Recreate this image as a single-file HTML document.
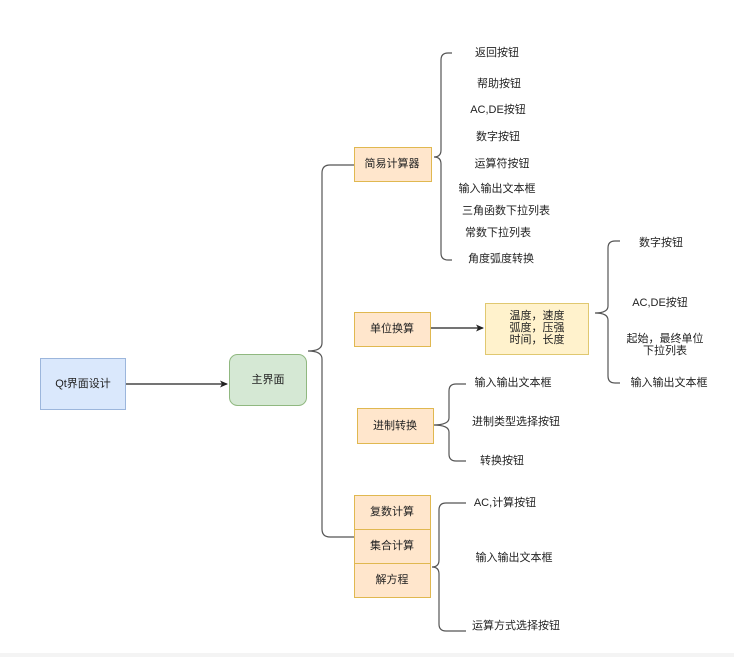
<!DOCTYPE html>
<html><head><meta charset="utf-8"><style>
body{margin:0;background:#fff;}
svg text{font-family:"Liberation Sans","Noto Sans CJK SC",sans-serif;font-size:11px;fill:#222;text-anchor:middle;dominant-baseline:central;}
</style></head><body>
<svg width="734" height="657" viewBox="0 0 734 657" xmlns="http://www.w3.org/2000/svg">
<defs><marker id="a" markerWidth="8" markerHeight="8" refX="7" refY="4" orient="auto" markerUnits="userSpaceOnUse"><path d="M0,0.5 L8,4 L0,7.5 L2,4 Z" fill="#222"/></marker></defs>
<g fill="none" stroke="#555" stroke-width="1.2">
<!-- main brace -->
<path d="M354,165 H330 Q322,165 322,173 V343 Q322,351 308,351 Q322,351 322,359 V529 Q322,537 330,537 H354"/>
<!-- simple calc brace -->
<path d="M452,53 H448 Q441,53 441,60 V150 Q441,157 434,157 Q441,157 441,164 V253 Q441,260 448,260 H452"/>
<!-- unit brace -->
<path d="M620,241 H615 Q608,241 608,248 V306 Q608,313 595,313 Q608,313 608,320 V376 Q608,383 615,383 H620"/>
<!-- base brace -->
<path d="M466,384 H456 Q449,384 449,391 V418 Q449,425 433,425 Q449,425 449,432 V454 Q449,461 456,461 H466"/>
<!-- bottom brace -->
<path d="M466,503 H446 Q439,503 439,510 V560 Q439,567 432,567 Q439,567 439,574 V624 Q439,631 446,631 H466"/>
</g>
<g stroke="#222" stroke-width="1.2">
<line x1="125" y1="384" x2="227" y2="384" marker-end="url(#a)"/>
<line x1="430" y1="328" x2="483" y2="328" marker-end="url(#a)"/>
</g>
<rect x="40.5" y="358.5" width="85" height="51" fill="#dae8fc" stroke="#9cb6dc"/>
<text x="83" y="384">Qt界面设计</text>
<rect x="229.5" y="354.5" width="77" height="51" rx="8" fill="#d5e8d4" stroke="#90b880"/>
<text x="268" y="380">主界面</text>
<g fill="#ffe6cc" stroke="#e0b850">
<rect x="354.5" y="147.5" width="77" height="34"/>
<rect x="354.5" y="312.5" width="76" height="34"/>
<rect x="357.5" y="408.5" width="76" height="35"/>
<rect x="354.5" y="495.5" width="76" height="34"/>
<rect x="354.5" y="529.5" width="76" height="34"/>
<rect x="354.5" y="563.5" width="76" height="34"/>
</g>
<rect x="485.5" y="303.5" width="103" height="51" fill="#fff2cc" stroke="#e0c870"/>
<text x="392" y="164">简易计算器</text>
<text x="392" y="329">单位换算</text>
<text x="395" y="426">进制转换</text>
<text x="392" y="512">复数计算</text>
<text x="392" y="546">集合计算</text>
<text x="392" y="580">解方程</text>
<text x="537" y="316">温度，速度</text>
<text x="537" y="328">弧度，压强</text>
<text x="537" y="340">时间，长度</text>
<text x="497" y="53">返回按钮</text>
<text x="499" y="84">帮助按钮</text>
<text x="498" y="110">AC,DE按钮</text>
<text x="498" y="137">数字按钮</text>
<text x="502" y="164">运算符按钮</text>
<text x="497" y="189">输入输出文本框</text>
<text x="506" y="211">三角函数下拉列表</text>
<text x="498" y="233">常数下拉列表</text>
<text x="501" y="259">角度弧度转换</text>
<text x="661" y="243">数字按钮</text>
<text x="660" y="303">AC,DE按钮</text>
<text x="665" y="339">起始，最终单位</text>
<text x="665" y="351">下拉列表</text>
<text x="669" y="383">输入输出文本框</text>
<text x="513" y="383">输入输出文本框</text>
<text x="516" y="422">进制类型选择按钮</text>
<text x="502" y="461">转换按钮</text>
<text x="505" y="503">AC,计算按钮</text>
<text x="514" y="558">输入输出文本框</text>
<text x="516" y="626">运算方式选择按钮</text>
<rect x="0" y="653" width="734" height="4" fill="#f4f4f4"/>
</svg>
</body></html>
